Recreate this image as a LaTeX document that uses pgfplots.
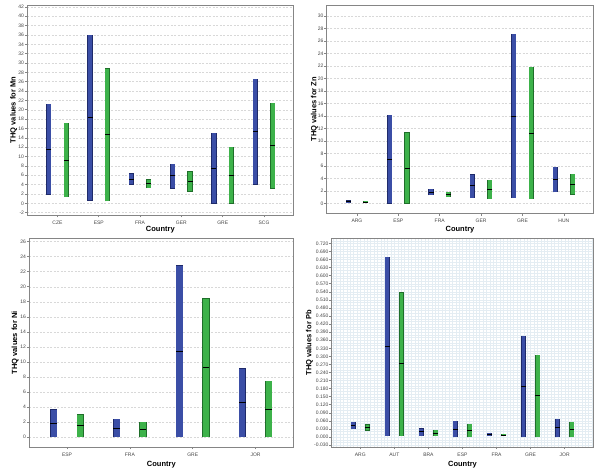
\documentclass[border=0pt]{standalone}
\usepackage{fontspec}
\setmainfont{Liberation Sans}
\usepackage{pgfplots}
\usepackage{pgfplotstable}
\pgfplotsset{compat=1.18}
\definecolor{bfill}{HTML}{3B4EA6}
\definecolor{bedge}{HTML}{1E2A6A}
\definecolor{gfill}{HTML}{3DB24A}
\definecolor{gedge}{HTML}{1F6E2A}
\definecolor{axgray}{HTML}{858585}
\definecolor{txtgray}{HTML}{444444}
\definecolor{gridgray}{HTML}{D8D8D8}
\definecolor{gridblue}{HTML}{E4EDF3}

% columns: category index, blue min/max/median, green min/max/median
\pgfplotstableread{
x bl bh bm gl gh gm
0 1.9 21.2 11.5 1.4 17.1 9.25
1 0.6 35.9 18.3 0.5 28.8 14.7
2 4.1 6.3 5.2 3.3 5.05 4.2
3 3.2 8.4 5.9 2.6 6.8 4.7
4 0.0 14.95 7.5 0.0 12.0 6.05
5 4.05 26.5 15.4 3.2 21.35 12.3
}\mnTable

\pgfplotstableread{
x bl bh bm gl gh gm
0 0.05 0.4 0.25 0.05 0.3 0.2
1 0 14.1 7.1 0 11.3 5.65
2 1.35 2.25 1.75 1.05 1.8 1.45
3 0.9 4.6 2.8 0.75 3.7 2.2
4 0.9 27.1 14.0 0.75 21.8 11.2
5 1.8 5.8 3.8 1.45 4.65 3.05
}\znTable

\pgfplotstableread{
x bl bh bm gl gh gm
0 0 3.65 1.85 0 2.95 1.5
1 0 2.4 1.2 0 1.95 0.97
2 0 22.8 11.4 0 18.4 9.2
3 0 9.1 4.6 0 7.4 3.7
}\niTable

\pgfplotstableread{
x bl bh bm gl gh gm
0 0.030 0.056 0.043 0.025 0.046 0.036
1 0.005 0.668 0.338 0.005 0.537 0.272
2 0.005 0.031 0.019 0.005 0.026 0.014
3 0 0.060 0.030 0 0.047 0.025
4 0.005 0.015 0.010 0.004 0.011 0.0075
5 0 0.376 0.189 0 0.304 0.153
6 0 0.067 0.035 0 0.055 0.027
}\pbTable

\pgfplotsset{
  spss/.style={
    scale only axis,
    anchor=south west,
    axis line style={draw=axgray, line width=0.8pt},
    every tick/.style={draw=axgray, line width=0.6pt},
    tick align=outside,
    major tick length=2.5pt,
    xtick pos=left, ytick pos=left,
    tick label style={font=\fontsize{5}{6}\selectfont, text=txtgray},
    yticklabel style={inner sep=0.6pt},
    label style={font=\fontsize{7.5}{9}\selectfont\bfseries},
    /pgf/number format/assume math mode=true,
    ymajorgrids,
    major grid style={draw=gridgray, dash pattern=on 2pt off 1.5pt, line width=0.5pt},
    xlabel={Country},
    scaled y ticks=false,
  }
}

% #1 table, #2 outer width, #3 inner width, #4 median half length
\newcommand{\spssbars}[4]{%
  \addplot[draw=none, mark=none, forget plot, error bars/.cd, y dir=plus, y explicit, error mark=none,
    error bar style={line width=#2, draw=bedge, shorten <=-0.4pt, shorten >=-0.4pt}]
    table[x expr=\thisrow{x}-0.21, y=bl, y error plus expr=\thisrow{bh}-\thisrow{bl}] {#1};
  \addplot[draw=none, mark=none, forget plot, error bars/.cd, y dir=plus, y explicit, error mark=none,
    error bar style={line width=#3, draw=bfill}]
    table[x expr=\thisrow{x}-0.21, y=bl, y error plus expr=\thisrow{bh}-\thisrow{bl}] {#1};
  \addplot[draw=none, mark=none, forget plot, error bars/.cd, y dir=plus, y explicit, error mark=none,
    error bar style={line width=#2, draw=gedge, shorten <=-0.4pt, shorten >=-0.4pt}]
    table[x expr=\thisrow{x}+0.21, y=gl, y error plus expr=\thisrow{gh}-\thisrow{gl}] {#1};
  \addplot[draw=none, mark=none, forget plot, error bars/.cd, y dir=plus, y explicit, error mark=none,
    error bar style={line width=#3, draw=gfill}]
    table[x expr=\thisrow{x}+0.21, y=gl, y error plus expr=\thisrow{gh}-\thisrow{gl}] {#1};
  \addplot[only marks, mark=-, mark size=#4, mark options={line width=0.9pt, draw=black}, forget plot]
    table[x expr=\thisrow{x}-0.21, y=bm] {#1};
  \addplot[only marks, mark=-, mark size=#4, mark options={line width=0.9pt, draw=black}, forget plot]
    table[x expr=\thisrow{x}+0.21, y=gm] {#1};
}

\begin{document}
\begin{tikzpicture}[x=1pt,y=1pt]
\useasboundingbox (0,0) rectangle (600,474);

\begin{axis}[spss, at={(27.3pt,259pt)}, width=266pt, height=210pt,
  xmin=-0.73, xmax=5.71, ymin=-2.5, ymax=42.4,
  ytick={-2,0,...,42}, xtick={0,...,5}, xticklabels={CZE,ESP,FRA,GER,GRE,SCG},
  ylabel style={at={(axis description cs:-0.051,0.5)}, anchor=center},
  xlabel style={at={(axis description cs:0.5,-0.071)}, anchor=center},
  ylabel={THQ values for Mn}]
\spssbars{\mnTable}{5.2pt}{4.1pt}{2.5pt}
\end{axis}

\begin{axis}[spss, at={(326.7pt,260.7pt)}, width=266.6pt, height=208.3pt,
  xmin=-0.73, xmax=5.71, ymin=-1.6, ymax=31.8,
  ytick={0,2,...,30}, xtick={0,...,5}, xticklabels={ARG,ESP,FRA,GER,GRE,HUN},
  ylabel style={at={(axis description cs:-0.046,0.5)}, anchor=center},
  xlabel style={at={(axis description cs:0.5,-0.08)}, anchor=center},
  ylabel={THQ values for Zn}]
\spssbars{\znTable}{5.2pt}{4.1pt}{2.5pt}
\end{axis}

\begin{axis}[spss, at={(29.3pt,27pt)}, width=264pt, height=208.3pt,
  xmin=-0.6, xmax=3.6, ymin=-1.33, ymax=26.4,
  ytick={0,2,...,26}, xtick={0,...,3}, xticklabels={ESP,FRA,GRE,JOR},
  ylabel style={at={(axis description cs:-0.054,0.5)}, anchor=center},
  xlabel style={at={(axis description cs:0.5,-0.085)}, anchor=center},
  ylabel={THQ values for Ni}]
\spssbars{\niTable}{7.2pt}{6.1pt}{3.4pt}
\end{axis}

\begin{axis}[spss, at={(331.7pt,27pt)}, width=261.6pt, height=208.3pt,
  xmin=-0.84, xmax=6.84, ymin=-0.037, ymax=0.7375,
  ytick distance=0.03, xtick={0,...,6}, xticklabels={ARG,AUT,BRA,ESP,FRA,GRE,JOR},
  yticklabel style={/pgf/number format/.cd, fixed, fixed zerofill, precision=3},
  xmajorgrids, ymajorgrids,
  major grid style={draw=gridblue, solid, line width=0.35pt},
  minor xtick={-0.8,-0.7,...,6.8}, minor ytick={-0.03,-0.02,...,0.73},
  xminorgrids, yminorgrids, minor tick length=0pt,
  minor grid style={draw=gridblue, line width=0.35pt},
  ylabel style={at={(axis description cs:-0.085,0.5)}, anchor=center},
  xlabel style={at={(axis description cs:0.5,-0.085)}, anchor=center},
  ylabel={THQ values for Pb}]
\spssbars{\pbTable}{5.0pt}{3.9pt}{2.3pt}
\end{axis}
\end{tikzpicture}
\end{document}
